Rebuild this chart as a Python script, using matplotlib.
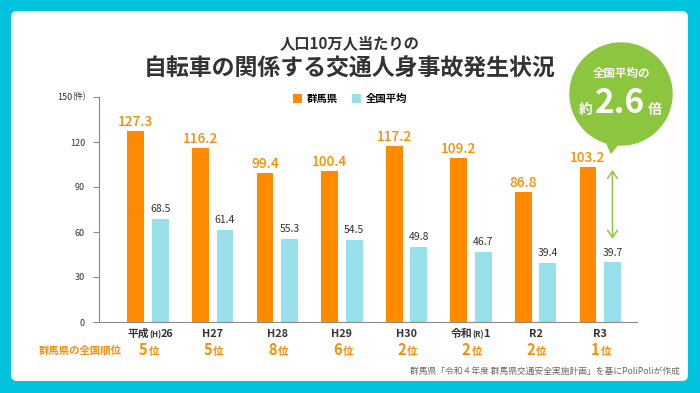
import re
import numpy as np
import matplotlib
matplotlib.use('Agg')
import matplotlib.pyplot as plt
from matplotlib.patches import FancyBboxPatch, Circle, Polygon

plt.rcParams['font.family'] = ['Noto Sans CJK JP', 'DejaVu Sans']

# データ
years = ['平成(H)26', 'H27', 'H28', 'H29', 'H30', '令和(R)1', 'R2', 'R3']
gunma = [127.3, 116.2, 99.4, 100.4, 117.2, 109.2, 86.8, 103.2]
national = [68.5, 61.4, 55.3, 54.5, 49.8, 46.7, 39.4, 39.7]
ranks = [5, 5, 8, 6, 2, 2, 2, 1]
yticks = [0, 30, 60, 90, 120, 150]

BG = '#00c3dd'
ORANGE = '#ff8a00'
LIGHT = '#97e0ec'
GREEN = '#8cc63f'
DARK = '#333333'
AXIS = '#8a8a8a'

fig = plt.figure(figsize=(7, 3.93), dpi=100, facecolor=BG)

# 背景用の軸（ピクセル座標）
bg = fig.add_axes([0, 0, 1, 1], zorder=0)
bg.set_xlim(0, 700)
bg.set_ylim(393, 0)
bg.axis('off')
bg.add_patch(FancyBboxPatch((11, 11), 677, 370, boxstyle='round,pad=0,rounding_size=6',
                            fc='white', ec='none'))

bg.text(350, 43, '人口10万人当たりの', ha='center', va='center',
        fontsize=11, fontweight='bold', color=DARK)
bg.text(350, 69, '自転車の関係する交通人身事故発生状況', ha='center', va='center',
        fontsize=16.5, fontweight='bold', color=DARK)

# 吹き出し
bg.add_patch(Circle((621, 94), 51, color=GREEN))
bg.add_patch(Polygon([(603, 134), (623, 138), (611, 153)], closed=True, color=GREEN))
bg.text(622, 73, '全国平均の', ha='center', va='center', fontsize=8.3, fontweight='bold', color='white')
bg.text(586, 114, '約', ha='center', va='baseline', fontsize=10, fontweight='bold', color='white')
bg.text(620, 113, '2.6', ha='center', va='baseline', fontsize=24, fontweight='bold', color='white')
bg.text(655, 114, '倍', ha='center', va='baseline', fontsize=10, fontweight='bold', color='white')

# y軸の単位
bg.text(72, 97, '150', ha='right', va='center', fontsize=6.5, color=DARK)
bg.text(72, 97, '(件)', ha='left', va='center', fontsize=5.8, color=DARK)

bg.text(39, 350, '群馬県の全国順位', ha='left', va='center', fontsize=7.5,
        fontweight='bold', color=ORANGE)
bg.text(680, 371, '群馬県「令和４年度 群馬県交通安全実施計画」を基にPoliPoliが作成',
        ha='right', va='center', fontsize=6.3, color='#666666')

# メインのグラフ
ax = fig.add_axes([99 / 700, 71 / 393, 538 / 700, 225 / 393], zorder=1)
ax.patch.set_alpha(0)
x = np.arange(len(years))
ax.bar(x - 0.19, gunma, 0.26, color=ORANGE, label='群馬県')
ax.bar(x + 0.19, national, 0.26, color=LIGHT, label='全国平均')
ax.set_xlim(-0.76, 7.57)
ax.set_ylim(0, 150)

for s in ['top', 'right']:
    ax.spines[s].set_visible(False)
for s in ['left', 'bottom']:
    ax.spines[s].set_color(AXIS)
    ax.spines[s].set_linewidth(0.8)
ax.set_xticks([])
ax.set_yticks(yticks)
ax.set_yticklabels([str(t) for t in yticks[:-1]] + [''])
ax.tick_params(axis='y', length=4, width=0.8, color=AXIS, labelsize=6.5,
               labelcolor=DARK, pad=6)

for xi, v in zip(x, gunma):
    ax.annotate(f'{v:.1f}', (xi - 0.19, v), xytext=(0, 1.5), textcoords='offset points',
                ha='center', va='bottom', color=ORANGE, fontsize=9.8, fontweight='medium')
for xi, v in zip(x, national):
    ax.annotate(f'{v:.1f}', (xi + 0.19, v), xytext=(0, 3.5), textcoords='offset points',
                ha='center', va='bottom', color=DARK, fontsize=7.5)

# x軸ラベル（(H)(R)は小さく）
for xi, lab in zip(x, years):
    m = re.match(r'(\D+)\((\w)\)(\d+)', lab)
    if m:
        ax.annotate(m.group(1), (xi, 0), xytext=(1, -11), textcoords='offset points',
                    ha='right', va='baseline', fontsize=7.8, fontweight='bold', color=DARK)
        ax.annotate('(' + m.group(2) + ')', (xi, 0), xytext=(0.8, -11), textcoords='offset points',
                    ha='left', va='baseline', fontsize=5.8, fontweight='bold', color=DARK)
        ax.annotate(m.group(3), (xi, 0), xytext=(9.0, -11), textcoords='offset points',
                    ha='left', va='baseline', fontsize=7.8, fontweight='bold', color=DARK)
    else:
        ax.annotate(lab, (xi, 0), xytext=(0, -11), textcoords='offset points',
                    ha='center', va='baseline', fontsize=7.8, fontweight='bold', color=DARK)

# 全国順位
for xi, r in zip(x, ranks):
    ax.annotate(str(r), (xi, 0), xytext=(-0.3, -24), textcoords='offset points',
                ha='right', va='baseline', fontsize=10.5, fontweight='bold', color=ORANGE)
    ax.annotate('位', (xi, 0), xytext=(0.5, -24), textcoords='offset points',
                ha='left', va='baseline', fontsize=7.5, fontweight='bold', color=ORANGE)

# R3の差の矢印
ax.annotate('', xy=(7 + 0.19, national[7] + 14), xytext=(7 + 0.19, gunma[7]),
            arrowprops=dict(arrowstyle='<->,head_length=0.5,head_width=0.35',
                            color=GREEN, lw=1.1))

ax.legend(loc='center', bbox_to_anchor=(350 / 700, 1 - 99 / 393), bbox_transform=fig.transFigure,
          ncol=2, frameon=False, handlelength=0.9, handleheight=0.9,
          handletextpad=0.4, columnspacing=1.4, prop={'weight': 'bold', 'size': 7.5})

fig.savefig('out.png', dpi=100, facecolor=BG)
